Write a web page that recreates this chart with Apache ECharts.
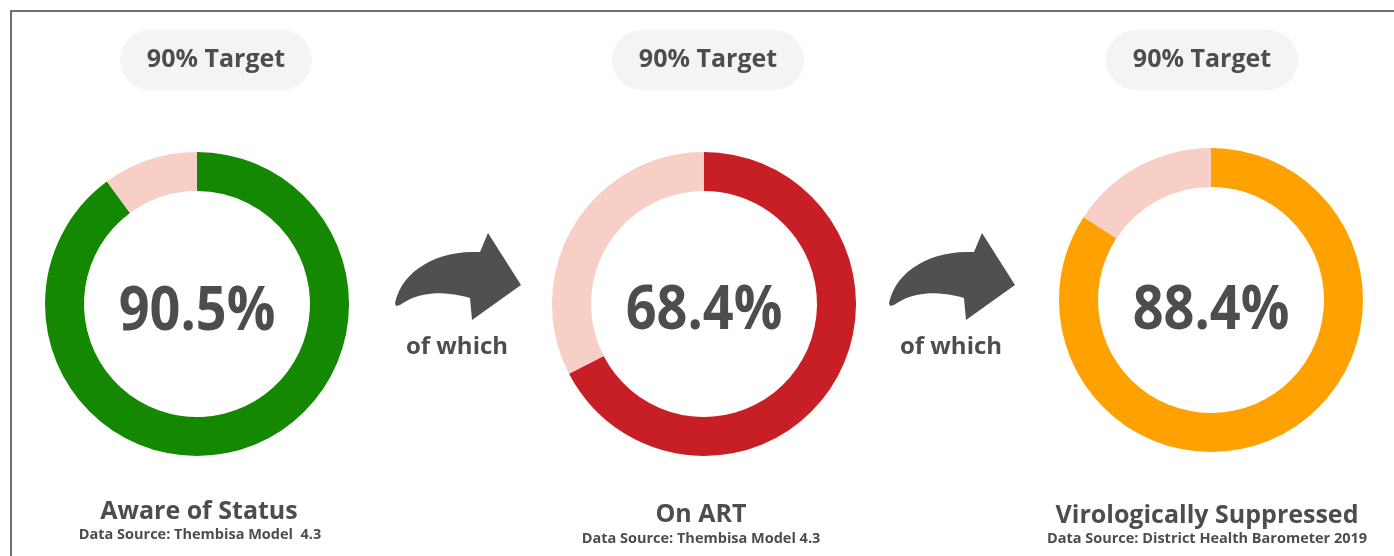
<!DOCTYPE html>
<html><head><meta charset="utf-8">
<script src="https://cdn.jsdelivr.net/npm/echarts@6/dist/echarts.min.js"></script>
<style>html,body{margin:0;padding:0;background:#fff}#c{width:1394px;height:556px}</style>
</head><body><div id="c"></div>
<script>
const categories = ['Aware of Status', 'On ART', 'Virologically Suppressed'];
const labelValues = [90.5, 68.4, 88.4];
const ringValues = [89.9, 67.4, 84.2];
const sources = ['Data Source: Thembisa Model  4.3', 'Data Source: Thembisa Model 4.3', 'Data Source: District Health Barometer 2019'];
const targetLabels = ['90% Target', '90% Target', '90% Target'];
const colors = ['#148800', '#c81f26', '#ffa100'];
const remainderColor = '#f7cfc6';
const connectorLabel = 'of which';

const FONT = 'Open Sans';
const TEXT = '#4d4d4d';
const centersX = [197, 704, 1211];
const centersY = [304, 304, 300];
const valueTextY = [312.5, 311.5, 311.5];
const pillX = [216, 708, 1202];
const catX = [199, 701, 1207];
const catY = [512, 515, 516];
const srcX = [200, 701, 1207];
const srcY = [535, 539, 539];

function bez(p0, p1, p2, p3, n) {
  const pts = [];
  for (let k = 1; k <= n; k++) {
    const t = k / n, u = 1 - t;
    pts.push([u*u*u*p0[0] + 3*u*u*t*p1[0] + 3*u*t*t*p2[0] + t*t*t*p3[0],
              u*u*u*p0[1] + 3*u*u*t*p1[1] + 3*u*t*t*p2[1] + t*t*t*p3[1]]);
  }
  return pts;
}
function arrowPoints(ox, oy) {
  let pts = [[15, 83]];
  pts = pts.concat(bez([15, 83], [22, 50], [58, 30], [100, 32], 16));
  pts.push([108, 13], [141, 65], [92, 100], [90, 78]);
  pts = pts.concat(bez([90, 78], [62, 70], [38, 72], [20, 85], 16));
  pts.push([16, 86]);
  return pts.map(p => [p[0] + ox, p[1] + oy]);
}

const chart = echarts.init(document.getElementById('c'), null, {renderer: 'canvas'});

const series = ringValues.map((v, i) => ({
  type: 'pie',
  silent: true,
  animation: false,
  center: [centersX[i], centersY[i]],
  radius: [113, 152],
  startAngle: 90,
  clockwise: true,
  label: {show: false},
  labelLine: {show: false},
  emphasis: {disabled: true},
  data: [
    {value: v, name: categories[i], itemStyle: {color: colors[i]}},
    {value: +(100 - v).toFixed(1), name: 'rest', itemStyle: {color: remainderColor}}
  ]
}));

const graphics = [
  {type: 'rect', shape: {x: 10, y: 10, width: 1384, height: 2}, style: {fill: '#6e6e6e'}},
  {type: 'rect', shape: {x: 10, y: 10, width: 2, height: 546}, style: {fill: '#6e6e6e'}}
];
labelValues.forEach((v, i) => {
  graphics.push({type: 'text', x: centersX[i], y: valueTextY[i], scaleX: 0.9,
    style: {text: v.toFixed(1) + '%', fontFamily: FONT, fontWeight: 'bold', fontSize: 60, fill: TEXT, align: 'center', verticalAlign: 'middle'}});
});
pillX.forEach((x, i) => {
  graphics.push({type: 'rect', shape: {x: x - 96, y: 30, width: 192, height: 60, r: 30}, style: {fill: '#f4f4f4'}});
  graphics.push({type: 'text', x: x, y: 60, style: {text: targetLabels[i], fontFamily: FONT, fontWeight: 'bold', fontSize: 25, fill: TEXT, align: 'center', verticalAlign: 'middle'}});
});
[380, 874].forEach((ax) => {
  graphics.push({type: 'polygon', shape: {points: arrowPoints(ax, 220)}, style: {fill: '#505050'}});
  graphics.push({type: 'text', x: ax + 77, y: 347, style: {text: connectorLabel, fontFamily: FONT, fontWeight: 'bold', fontSize: 24, fill: TEXT, align: 'center', verticalAlign: 'middle'}});
});
categories.forEach((c, i) => {
  graphics.push({type: 'text', x: catX[i], y: catY[i], style: {text: c, fontFamily: FONT, fontWeight: 'bold', fontSize: 25, fill: TEXT, align: 'center', verticalAlign: 'middle'}});
  graphics.push({type: 'text', x: srcX[i], y: srcY[i], style: {text: sources[i], fontFamily: FONT, fontWeight: 'bold', fontSize: 14.5, fill: TEXT, align: 'center', verticalAlign: 'middle'}});
});

chart.setOption({animation: false, series: series, graphic: graphics});
</script></body></html>
